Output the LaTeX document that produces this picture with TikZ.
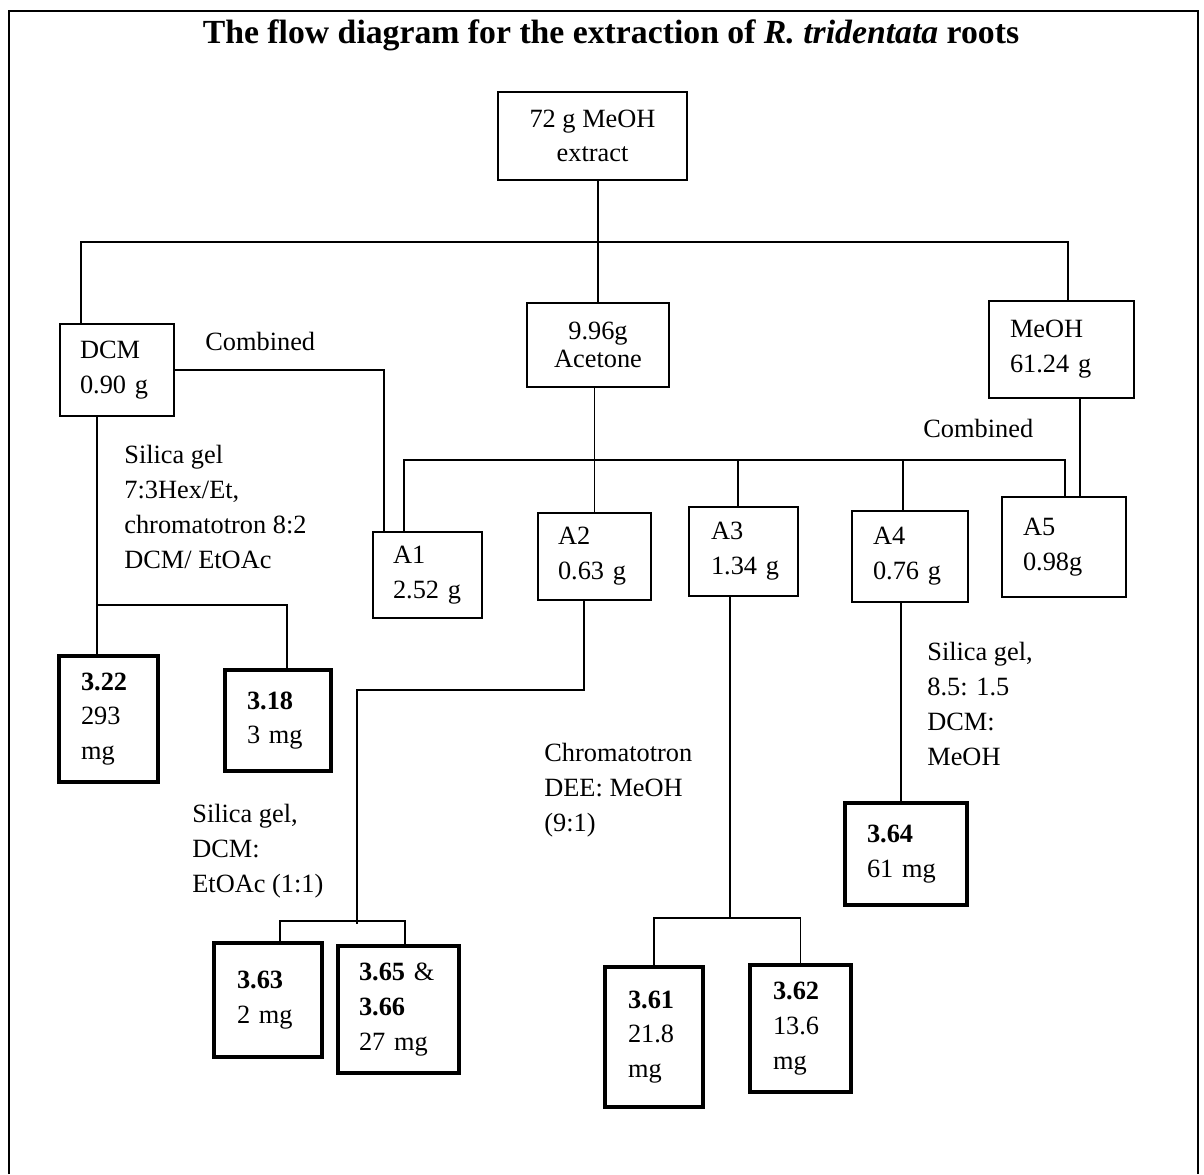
\documentclass[tikz,border=0pt]{standalone}
\usepackage{fontspec}
\setmainfont{Liberation Serif}
\usepackage{tikz}

\begin{document}
\begin{tikzpicture}[x=0.02cm, y=-0.02cm]
\tikzset{
    thin box/.style={
        rectangle, draw, line width=0.75pt,
        inner sep=0pt, align=left,
        font=\fontsize{15}{19.8}\selectfont
    },
    thick box/.style={
        thin box, line width=2pt
    },
    link/.style={
        line width=0.6pt
    },
    note/.style={
        inner sep=0pt, align=left,
        font=\fontsize{15}{19.8}\selectfont
    }
}
\useasboundingbox (0,0) rectangle (1204,1174);
% Chenar
\draw[line width=1.3pt] (9,1174) -- (9,11) -- (1198,11) -- (1198,1174);
\node[anchor=base, font=\fontsize{19.2}{22}\selectfont\bfseries] (title) at (611,43)
    {The flow diagram for the extraction of \textit{R. tridentata} roots};

% Extracte
\node[thin box, align=center, minimum width=3.78cm, minimum height=1.76cm] (top)  at (592.5,136)  {72 g MeOH\\extract};
\node[thin box, align=center, minimum width=2.84cm, minimum height=1.68cm] (ace)  at (598,345)    {9.96g\\[-4pt]Acetone};
\node[thin box, text width=1.48cm, minimum width=2.28cm, minimum height=1.84cm] (dcm)  at (117,370)    {DCM\\0.90~g};
\node[thin box, text width=2.06cm, minimum width=2.90cm, minimum height=1.94cm] (meoh) at (1061.5,349.5) {MeOH\\61.24~g};

% Fractii
\node[thin box, text width=1.38cm, minimum width=2.18cm, minimum height=1.72cm] (a1) at (427.5,575)  {A1\\2.52~g};
\node[thin box, text width=1.46cm, minimum width=2.26cm, minimum height=1.74cm] (a2) at (594.5,556.5) {A2\\0.63~g};
\node[thin box, text width=1.30cm, minimum width=2.18cm, minimum height=1.78cm] (a3) at (743.5,551.5) {A3\\1.34~g};
\node[thin box, text width=1.48cm, minimum width=2.32cm, minimum height=1.82cm] (a4) at (910,556.5)   {A4\\0.76~g};
\node[thin box, text width=1.64cm, minimum width=2.48cm, minimum height=2.00cm] (a5) at (1064,547)    {A5\\0.98g};

% Compusi
\node[thick box, text width=1.10cm, minimum width=1.98cm, minimum height=2.52cm] (s322) at (108.5,719)  {\textbf{3.22}\\293\\mg};
\node[thick box, text width=1.24cm, minimum width=2.12cm, minimum height=2.02cm] (s318) at (278,720.5)  {\textbf{3.18}\\3~mg};
\node[thick box, text width=1.24cm, minimum width=2.16cm, minimum height=2.28cm] (s363) at (268,1000)   {\textbf{3.63}\\2~mg};
\node[thick box, text width=1.58cm, minimum width=2.42cm, minimum height=2.54cm] (s365) at (398.5,1009.5) {\textbf{3.65}~\&\\\textbf{3.66}\\27~mg};
\node[thick box, text width=1.04cm, minimum width=1.96cm, minimum height=2.80cm] (s361) at (654,1037)   {\textbf{3.61}\\21.8\\mg};
\node[thick box, text width=1.10cm, minimum width=2.02cm, minimum height=2.54cm] (s362) at (800.5,1028.5) {\textbf{3.62}\\13.6\\mg};
\node[thick box, text width=1.56cm, minimum width=2.44cm, minimum height=2.04cm] (s364) at (906,854)    {\textbf{3.64}\\61~mg};

% Note
\node[note, anchor=base west] (combL) at (205,350) {Combined};
\node[note, anchor=base west] (combR) at (923,437) {Combined};
\node[note, anchor=north west] (silDCM) at (124,445) {Silica gel\\7:3Hex/Et,\\chromatotron 8:2\\DCM/ EtOAc};
\node[note, anchor=north west] (silA2)  at (192,804) {Silica gel,\\DCM:\\EtOAc (1:1)};
\node[note, anchor=north west] (chrA3)  at (544,743) {Chromatotron\\DEE: MeOH\\(9:1)};
\node[note, anchor=north west] (silA4)  at (927,642) {Silica gel,\\8.5: 1.5\\DCM:\\MeOH};

% Puncte de ramificare
\coordinate (busL) at (81,242);
\coordinate (busR) at (1068,242);
\coordinate (cmbA1) at (384,460);
\coordinate (accL) at (404,460);
\coordinate (accR) at (1065,460);
\coordinate (j3) at (738,460);
\coordinate (j4) at (903,460);
\coordinate (mA5) at (1080,450);
\coordinate (dcmF) at (97,605);
\coordinate (k318) at (287,605);
\coordinate (a2a) at (584,690);
\coordinate (a2b) at (357,690);
\coordinate (a2c) at (357,924);
\coordinate (b63) at (280,921);
\coordinate (b65) at (405,921);
\coordinate (a3f) at (730,918);
\coordinate (a4f) at (901,700);

% Linii
\draw[link] (top.south -| ace.north) -- (ace.north);
\draw[link] (dcm.north -| busL) -- (busL) -- (busR) -- (meoh.north -| busR);
\draw[link] (dcm.east) -| (a1.north -| cmbA1);
\draw[link] (ace.south -| a2.north) -- (a2.north);
\draw[link] (a1.north -| accL) -- (accL) -- (accR) -- (a5.north -| accR);
\draw[link] (j3) -- (a3.north -| j3);
\draw[link] (j4) -- (a4.north -| j4);
\draw[link] (meoh.south -| mA5) -- (a5.north -| mA5);
\draw[link] (dcm.south -| dcmF) -- (s322.north -| dcmF);
\draw[link] (dcmF) -- (k318) -- (s318.north -| k318);
\draw[link] (a2.south -| a2a) -- (a2a) -- (a2b) -- (a2c);
\draw[link] (s363.north -| b63) -- (b63) -- (b65) -- (s365.north -| b65);
\draw[link] (a3.south -| a3f) -- (a3f);
\draw[link] (s361.north) |- (a3f) -| (s362.north);
\draw[link] (a4.south -| a4f) -- (s364.north -| a4f);
\end{tikzpicture}
\end{document}
